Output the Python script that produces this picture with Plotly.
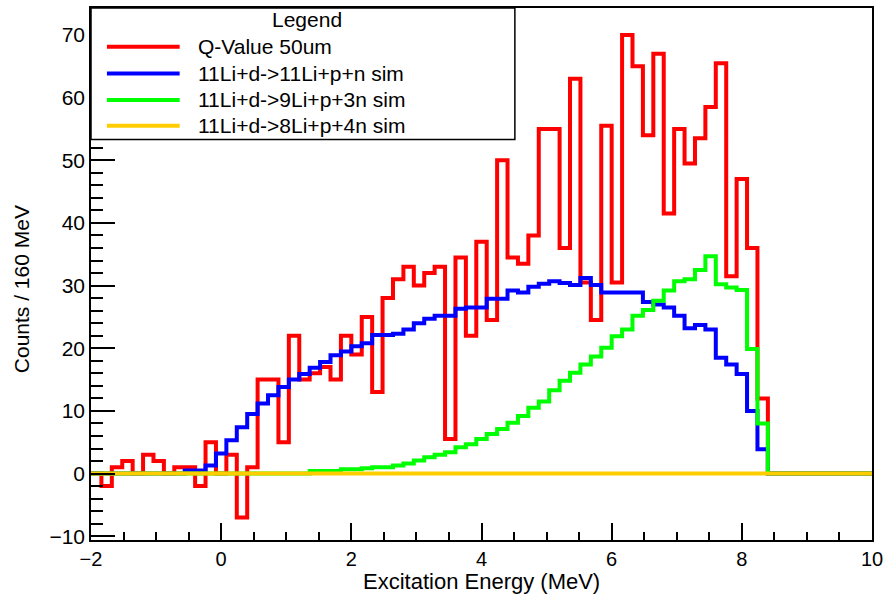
import numpy as np
import plotly.graph_objects as go

# ---- data (160 MeV bins from -2 to 10 MeV) ----
bin_start = -2.0
bin_width = 0.16
n_bins = 75

q_value_50um = [0, -2, 1, 2, 0, 3, 2, 0, 1, 1,
                -2, 5, 0, 3, -7, 1, 15, 15, 5, 22,
                15, 16, 17, 15, 22, 19, 25, 13, 28, 31,
                33, 30, 32, 33, 5.5, 34.5, 22, 37, 24.5, 50,
                34.5, 33.5, 38, 55, 55, 36, 63, 30.5, 24.5, 55.5,
                30.5, 70, 65, 54, 67, 41.5, 55, 49.5, 53.5, 58.5,
                65.5, 31.5, 47, 36, 12] + [0] * 10

sim_11li = [0] * 9 + [0.5, 0.5, 1.3, 3.2, 5.3, 7.4, 9.5, 11.2, 12.5, 13.8,
                      15.0, 15.9, 16.9, 17.8, 18.9, 19.5, 20.3, 20.8, 22.1, 22.1,
                      22.3, 23.0, 24.0, 24.7, 25.2, 25.2, 26.3, 26.5, 26.5, 27.9,
                      27.9, 29.2, 28.9, 29.8, 30.3, 30.7, 30.4, 30.1, 31.2, 30.1,
                      28.9, 28.9, 28.9, 28.9, 27.4, 27.0, 26.5, 25.2, 23.2, 23.7,
                      23.0, 18.5, 17.4, 15.9, 10.0, 3.9] + [0] * 10

sim_9li = [0] * 21 + [0.4, 0.4, 0.4, 0.7, 0.7, 0.85, 1.0, 1.0, 1.3,
                      1.6, 2.1, 2.6, 3.0, 3.4, 4.2, 4.7, 5.5, 6.3, 7.1,
                      8.1, 9.2, 10.5, 11.5, 13.3, 14.8, 16.1, 17.4, 18.7, 20.1,
                      21.9, 23.0, 25.2, 26.1, 27.6, 29.2, 30.7, 31.0, 32.5, 34.7,
                      30.2, 29.7, 29.3, 19.9, 8.0] + [0] * 10

sim_8li = [0] * 75

series_names = ["Q-Value 50um", "11Li+d->11Li+p+n sim",
                "11Li+d->9Li+p+3n sim", "11Li+d->8Li+p+4n sim"]
series_values = [q_value_50um, sim_11li, sim_9li, sim_8li]
series_colors = ["#FF0000", "#0000FF", "#00FF00", "#FFCC00"]

edges = bin_start + bin_width * np.arange(n_bins + 1)

fig = go.Figure()
for name, vals, col in zip(series_names, series_values, series_colors):
    v = list(vals) + [vals[-1]]
    fig.add_trace(go.Scatter(x=edges, y=v, mode="lines", name=name,
                             line=dict(color=col, width=4, shape="hv"),
                             showlegend=False))

FONT = "Liberation Sans, Arial, Helvetica, sans-serif"

L, R, T, B = 91, 14, 6, 54
W, H = 889, 594
pw, ph = W - L - R, H - T - B


def px2x(px):
    return (px - L) / pw


def py2y(py):
    return (H - B - py) / ph


fig.update_layout(
    width=W, height=H,
    margin=dict(l=L, r=R, t=T, b=B),
    paper_bgcolor="white", plot_bgcolor="white",
    font=dict(family=FONT, size=21, color="black"),
    xaxis=dict(range=[-2, 10], tick0=0, dtick=2, ticks="inside", ticklen=17,
               tickwidth=1.5, tickcolor="black", showgrid=False, zeroline=False,
               showline=True, linecolor="black", linewidth=1.5, mirror=True,
               minor=dict(ticks="inside", dtick=0.5, ticklen=8, tickwidth=1.5,
                          tickcolor="black", showgrid=False),
               tickfont=dict(size=20)),
    yaxis=dict(range=[-10.6, 74.3], tick0=0, dtick=10, ticks="inside", ticklen=24,
               tickwidth=1.5, tickcolor="black", showgrid=False, zeroline=False,
               showline=True, linecolor="black", linewidth=1.5, mirror=True,
               minor=dict(ticks="inside", dtick=2, ticklen=12, tickwidth=1.5,
                          tickcolor="black", showgrid=False),
               tickfont=dict(size=21)),
)

annotations = [
    dict(text="Excitation Energy (MeV)", xref="paper", yref="paper",
         x=0.5, y=py2y(582), xanchor="center", yanchor="middle",
         showarrow=False, font=dict(size=22)),
    dict(text="Counts / 160 MeV", xref="paper", yref="paper",
         x=px2x(22), y=py2y(288), xanchor="center", yanchor="middle",
         textangle=-90, showarrow=False, font=dict(size=21)),
    dict(text="Legend", xref="paper", yref="paper",
         x=px2x(308), y=py2y(18), xanchor="center", yanchor="middle",
         showarrow=False, font=dict(size=21)),
]
shapes = [
    dict(type="rect", xref="paper", yref="paper", x0=0, x1=px2x(516.5),
         y0=py2y(138), y1=1, fillcolor="white",
         line=dict(color="black", width=1.5), layer="above"),
]
legend_rows = [45, 71.7, 98.3, 124.3]
for name, col, ry in zip(series_names, series_colors, legend_rows):
    shapes.append(dict(type="line", xref="paper", yref="paper",
                       x0=px2x(107), x1=px2x(180), y0=py2y(ry), y1=py2y(ry),
                       line=dict(color=col, width=4), layer="above"))
    annotations.append(dict(text=name, xref="paper", yref="paper",
                            x=px2x(196), y=py2y(ry), xanchor="left",
                            yanchor="middle", showarrow=False,
                            font=dict(size=21)))

fig.update_layout(annotations=annotations, shapes=shapes)
fig.write_html("out.html")
